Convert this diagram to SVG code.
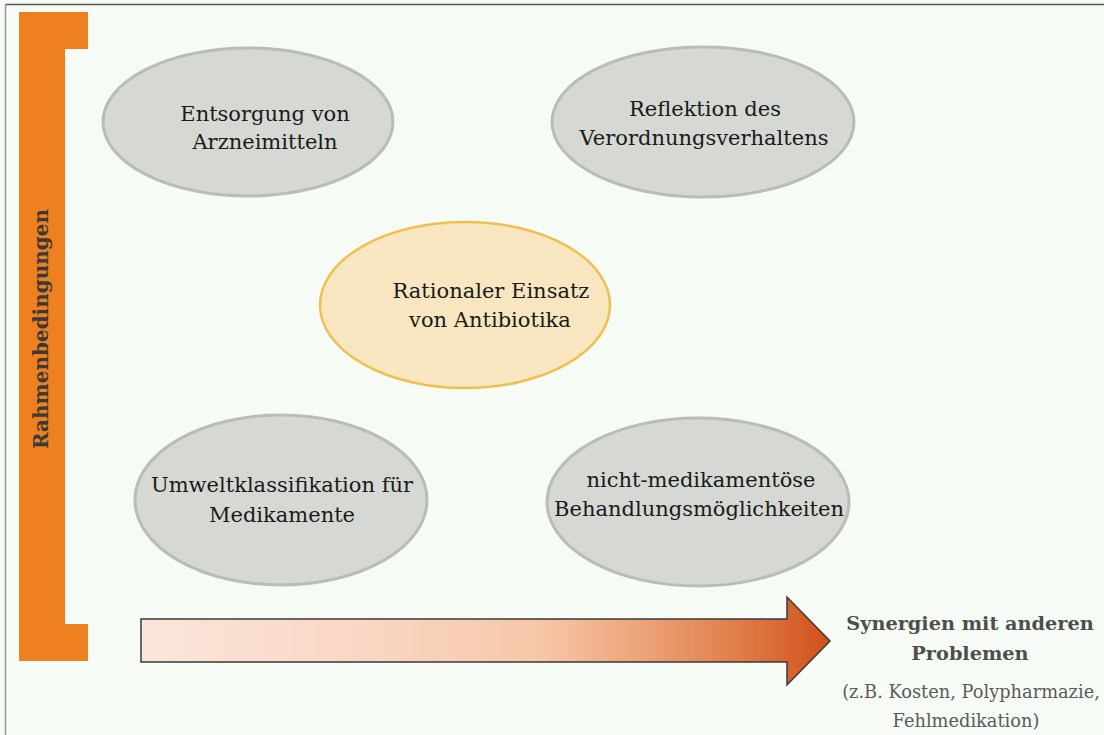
<svg xmlns="http://www.w3.org/2000/svg" width="1104" height="735" viewBox="0 0 1104 735">
<defs>
<linearGradient id="arrowGrad" x1="141" y1="0" x2="830" y2="0" gradientUnits="userSpaceOnUse">
<stop offset="0" stop-color="#fbe5db"/>
<stop offset="0.35" stop-color="#f9d5c2"/>
<stop offset="0.58" stop-color="#f6c7a8"/>
<stop offset="0.72" stop-color="#eda57c"/>
<stop offset="0.87" stop-color="#e07c48"/>
<stop offset="1" stop-color="#d0501a"/>
</linearGradient>
</defs>
<style>
.bg{fill:#f7fbf6}
.grey{fill:#d5d8d3;stroke:#b9bcb8;stroke-width:3}
.gold{fill:#f8e6c0;stroke:#efc050;stroke-width:2.5}
.lbl{font-family:"DejaVu Serif","Liberation Serif",serif;font-size:21px;fill:#1a1a1a;text-anchor:middle}
.side{font-family:"DejaVu Serif","Liberation Serif",serif;text-anchor:middle}
.orange{fill:#ee801f}
</style>
<rect class="bg" x="0" y="0" width="1104" height="735"/>
<line x1="5" y1="4.5" x2="1104" y2="4.5" stroke="#555" stroke-width="1.5"/>
<line x1="5.5" y1="4" x2="5.5" y2="735" stroke="#999" stroke-width="1.5"/>

<g id="rahmen">
<path class="orange" d="M19 12 H88 V49 H65 V624 H88 V661 H19 Z"/>
<text class="side" transform="translate(48,329) rotate(-90)" font-size="20" font-weight="bold" fill="#3a3a3a">Rahmenbedingungen</text>
</g>

<g id="n-entsorgung">
<ellipse class="grey" cx="248" cy="122" rx="145" ry="74"/>
<text class="lbl" x="265" y="121">Entsorgung von</text>
<text class="lbl" x="265" y="149">Arzneimitteln</text>
</g>

<g id="n-reflektion">
<ellipse class="grey" cx="703" cy="122" rx="151" ry="75"/>
<text class="lbl" x="705" y="116">Reflektion des</text>
<text class="lbl" x="704" y="145">Verordnungsverhaltens</text>
</g>

<g id="n-rational">
<ellipse class="gold" cx="465" cy="305" rx="145" ry="83"/>
<text class="lbl" x="491" y="298">Rationaler Einsatz</text>
<text class="lbl" x="490" y="327">von Antibiotika</text>
</g>

<g id="n-umwelt">
<ellipse class="grey" cx="281" cy="500" rx="146" ry="85"/>
<text class="lbl" x="282" y="492">Umweltklassifikation für</text>
<text class="lbl" x="282" y="522">Medikamente</text>
</g>

<g id="n-nichtmed">
<ellipse class="grey" cx="698" cy="502" rx="151" ry="84"/>
<text class="lbl" x="701" y="487">nicht-medikamentöse</text>
<text class="lbl" x="699" y="516">Behandlungsmöglichkeiten</text>
</g>

<g id="connectors">
<path d="M141 619 H787 V597 L830 641 L787 685 V662 H141 Z" fill="url(#arrowGrad)" stroke="#3a3a3a" stroke-width="1.5" stroke-linejoin="miter"/>
</g>

<g id="n-synergien">
<text class="side" x="970" y="630" font-size="19.3" font-weight="bold" fill="#4e4e4e">Synergien mit anderen</text>
<text class="side" x="970" y="660" font-size="19.3" font-weight="bold" fill="#4e4e4e">Problemen</text>
<text class="side" x="971" y="698" font-size="17.8" fill="#5a5a5a">(z.B. Kosten, Polypharmazie,</text>
<text class="side" x="966" y="727" font-size="17.8" fill="#5a5a5a">Fehlmedikation)</text>
</g>
</svg>
